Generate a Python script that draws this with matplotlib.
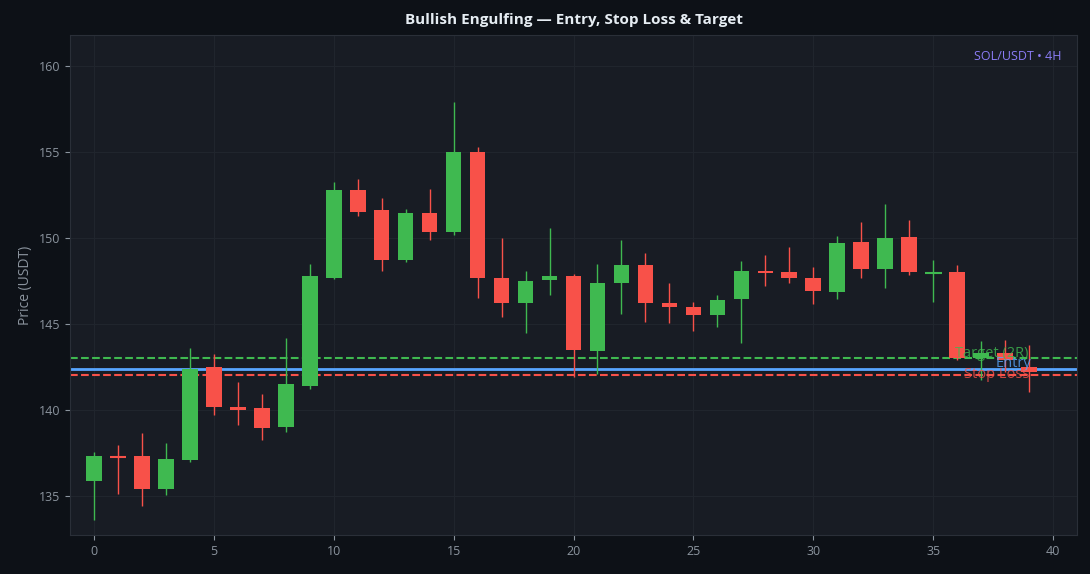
import matplotlib
matplotlib.use("Agg")
import matplotlib.pyplot as plt

plt.rcParams['font.family'] = ['Open Sans', 'DejaVu Sans']

opens  = [135.87,137.3,137.33,135.4,137.1,142.5,140.2,140.1,139.0,141.4,147.7,152.8,151.6,148.7,151.45,150.35,155.0,147.7,146.2,147.55,
          147.8,143.4,147.4,148.4,146.2,146.0,145.5,146.45,148.05,148.0,147.7,146.85,149.75,148.2,150.05,147.95,148.0,143.0,143.3,142.5]
highs  = [137.56,137.97,138.66,138.1,143.6,143.25,141.6,140.9,144.2,148.5,153.25,153.4,152.3,151.7,152.85,157.9,155.3,150.0,148.1,150.6,
          147.9,148.5,149.9,149.1,147.4,146.3,146.7,148.65,149.0,149.5,148.3,150.1,150.9,152.0,151.05,148.7,148.4,144.0,144.05,143.8]
lows   = [133.6,135.1,134.4,135.05,137.0,139.7,139.1,138.25,138.7,141.2,147.6,151.3,148.1,148.6,149.9,150.2,146.5,145.4,144.5,146.7,
          141.9,142.1,145.6,145.1,145.05,144.6,144.8,143.9,147.2,147.4,146.15,146.45,147.7,147.1,147.85,146.3,142.9,141.75,142.2,141.05]
closes = [137.33,137.25,135.4,137.15,142.4,140.2,140.0,138.95,141.5,147.8,152.8,151.5,148.7,151.45,150.35,155.0,147.7,146.2,147.5,147.8,
          143.5,147.4,148.4,146.2,146.0,145.5,146.4,148.1,147.95,147.7,146.9,149.7,148.2,150.0,148.0,148.0,143.0,143.3,142.9,142.2]
entry, stop, target = 142.38, 142.03, 143.0

UP, DN = '#3fb950', '#f85149'
fig = plt.figure(figsize=(10.9, 5.74), dpi=100, facecolor='#0d1117')
ax = fig.add_axes([70/1090, 1-535/574, 1007/1090, 500/574])
ax.set_facecolor('#181c24')
for i, (o, h, l, c) in enumerate(zip(opens, highs, lows, closes)):
    col = UP if c >= o else DN
    ax.vlines(i, l, h, color=col, lw=1, zorder=2)
    hgt = abs(c - o)
    if hgt < 0.08:
        ax.hlines((o + c) / 2, i - 0.35, i + 0.35, color=col, lw=1.5, zorder=3)
    else:
        ax.bar(i, hgt, bottom=min(o, c), width=0.65, color=col, zorder=3)

ax.axhline(target, color=UP, ls='--', lw=1.5, zorder=1)
ax.axhline(entry, color='#58a6ff', ls='-', lw=2, zorder=1)
ax.axhline(stop, color=DN, ls='--', lw=1.5, zorder=1)
ax.text(35.9, target + 0.3, 'Target (2R)', color=UP, fontsize=10.5, va='center', ha='left', alpha=0.8, zorder=4)
ax.text(37.6, entry + 0.3, 'Entry', color='#58a6ff', fontsize=10.5, va='center', ha='left', alpha=0.8, zorder=4)
ax.text(36.3, stop + 0.05, 'Stop Loss', color=DN, fontsize=10.5, va='center', ha='left', alpha=0.8, zorder=4)

ax.set_xlim(-1, 41)
ax.set_ylim(132.73, 161.8)
ax.grid(True, color='#20252d', lw=0.8, zorder=0)
ax.set_axisbelow(True)
for s in ax.spines.values():
    s.set_color('#2a2f38')
ax.tick_params(colors='#8b949e', labelsize=9)
ax.set_ylabel('Price (USDT)', color='#8b949e', fontsize=10)
ax.set_title('Bullish Engulfing — Entry, Stop Loss & Target', color='#e6edf3', fontsize=11, fontweight='bold', pad=8)
ax.text(0.985, 0.956, 'SOL/USDT • 4H', transform=ax.transAxes, color='#8b7cf6', fontsize=9, ha='right', va='center')
fig.savefig('out.png', dpi=100, facecolor=fig.get_facecolor())
